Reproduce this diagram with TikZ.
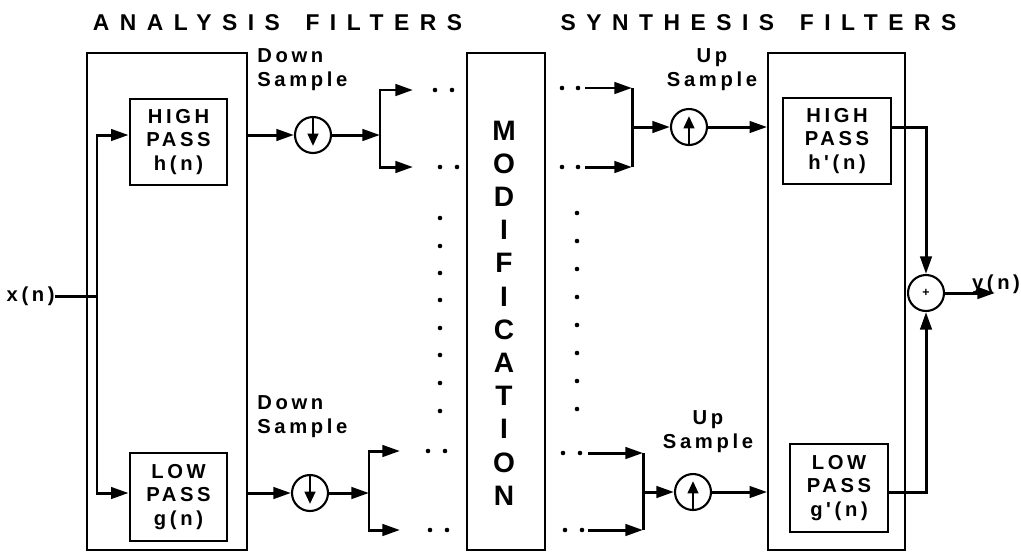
\documentclass[tikz,border=0pt]{standalone}
\usepackage{fontspec}
\setmainfont{Liberation Sans}
\newfontfamily\lblfont{Liberation Sans}[LetterSpace=18]
\newfontfamily\ttlfont{Liberation Sans}[LetterSpace=46]
\usetikzlibrary{arrows.meta}
\tikzset{
  frame/.style={draw, line width=1pt, inner sep=0pt},
  filter/.style={draw, line width=1.6pt, align=center, inner sep=0pt,
    font=\lblfont\bfseries\fontsize{11.5}{13.6}\selectfont},
  sampler/.style={draw, circle, line width=1.2pt, minimum size=0.72cm, inner sep=0pt},
  downsampler/.style={sampler, path picture={
    \draw[line width=1.4pt, -{Triangle[length=7pt,width=6pt]}]
      (path picture bounding box.north) -- ([yshift=4pt]path picture bounding box.south);}},
  upsampler/.style={sampler, path picture={
    \draw[line width=1.4pt, -{Triangle[length=7pt,width=6pt]}]
      (path picture bounding box.south) -- ([yshift=-4pt]path picture bounding box.north);}},
  wire/.style={line width=1.7pt},
  flow/.style={wire, -{Triangle[length=10pt,width=6.5pt]}},
  lbl/.style={inner sep=0pt, font=\lblfont\bfseries\fontsize{11.5}{13.8}\selectfont},
  ttl/.style={inner sep=0pt, font=\ttlfont\bfseries\fontsize{13}{15}\selectfont},
}
\begin{document}
\begin{tikzpicture}[x=0.02cm, y=-0.02cm]
  \useasboundingbox (0,0) rectangle (1021,552);
  \node[ttl] (anattl) at (277.5,23) {ANALYSIS\hspace{5pt} FILTERS};
  \node[ttl] (synttl) at (758.5,23) {SYNTHESIS\hspace{5pt} FILTERS};

  \node[frame, minimum width=3.2cm, minimum height=9.94cm] (ana) at (167,301.5) {};
  \node[frame, minimum width=1.56cm, minimum height=9.94cm] (mod) at (506,301.5) {};
  \node[frame, minimum width=2.74cm, minimum height=9.94cm] (syn) at (836.5,301.5) {};
  \node[align=center, inner sep=0pt, font=\bfseries\fontsize{16}{18.9}\selectfont] (modtxt) at (504,313)
    {M\\O\\D\\I\\F\\I\\C\\A\\T\\I\\O\\N};

  \node[filter, minimum width=1.94cm, minimum height=1.72cm] (hp) at (178.5,142) {HIGH\\PASS\\h(n)};
  \node[filter, minimum width=1.94cm, minimum height=1.76cm] (lp) at (178.5,497) {LOW\\PASS\\g(n)};
  \node[filter, minimum width=2.16cm, minimum height=1.72cm] (shp) at (837,141) {HIGH\\PASS\\h'(n)};
  \node[filter, minimum width=1.96cm, minimum height=1.76cm] (slp) at (839,488) {LOW\\PASS\\g'(n)};

  \node[downsampler] (dA) at (313,135) {};
  \node[downsampler] (dB) at (310,493) {};
  \node[upsampler] (uA) at (689,127) {};
  \node[upsampler] (uB) at (693,492) {};
  \node[sampler, font=\bfseries\fontsize{7}{8}\selectfont] (add) at (926,293) {+};

  \node[lbl, anchor=west, align=left] (dsA) at (257,70) {Down\\Sample};
  \node[lbl, anchor=west, align=left] (dsB) at (257,417) {Down\\Sample};
  \node[lbl, align=center] (usA) at (712,70) {Up\\Sample};
  \node[lbl, align=center] (usB) at (708,432) {Up\\Sample};
  \node[lbl, anchor=east] (xin) at (55,296) {x(n)};
  \node[lbl] (ylbl) at (996,284) {y(n)};

  \coordinate (split) at (97,296);
  \coordinate (bA) at (380,135);
  \coordinate (bB) at (369,493);
  \coordinate (oA1) at (413,90);
  \coordinate (oA2) at (413,167);
  \coordinate (oB1) at (400,451);
  \coordinate (oB2) at (400,530);
  \coordinate (iA1) at (585,88);
  \coordinate (iA2) at (585,167);
  \coordinate (iB1) at (588,453);
  \coordinate (iB2) at (588,530);
  \coordinate (jA) at (632,127);
  \coordinate (jB) at (643,492);
  \coordinate (yout) at (995,293);

  \draw[wire] (xin) -- (split);
  \draw[flow] (split) |- (hp.west |- dA);
  \draw[flow] (split) |- (lp.west |- dB);
  \draw[flow] (ana.east |- dA) -- (dA);
  \draw[flow] (ana.east |- dB) -- (dB);
  \draw[flow] (dA) -- (bA);
  \draw[flow] (dB) -- (bB);
  \draw[flow] (bA) |- (oA1);
  \draw[flow] (bA) |- (oA2);
  \draw[flow] (bB) |- (oB1);
  \draw[flow] (bB) |- (oB2);

  \draw[wire] (jA |- iA1) -- (jA |- iA2);
  \draw[wire] (jB |- iB1) -- (jB |- iB2);
  \draw[flow] (iA1) -- (jA |- iA1);
  \draw[flow] (iA2) -- (jA |- iA2);
  \draw[flow] (iB1) -- (jB |- iB1);
  \draw[flow] (iB2) -- (jB |- iB2);
  \draw[flow] (jA) -- (uA);
  \draw[flow] (jB) -- (uB);
  \draw[flow] (uA) -- (syn.west |- uA);
  \draw[flow] (uB) -- (syn.west |- uB);
  \draw[flow] (shp.east |- uA) -| (add.north);
  \draw[flow] (slp.east |- uB) -| (add.south);
  \draw[flow] (add) -- (yout);

  \foreach \x/\y in {435/90,452/90,440/167,457/167,428/451,445/451,430/530,447/530,
    562/88,578/88,562/167,578/167,563/453,580/453,565/530,582/530}
    \fill (\x,\y) circle (1.3pt);
  \foreach \y in {218,246,273,300,328,355,383,411}
    \fill (440,\y) circle (1.3pt);
  \foreach \y in {213,241,269,297,325,353,381,409}
    \fill (577,\y) circle (1.3pt);
\end{tikzpicture}
\end{document}
